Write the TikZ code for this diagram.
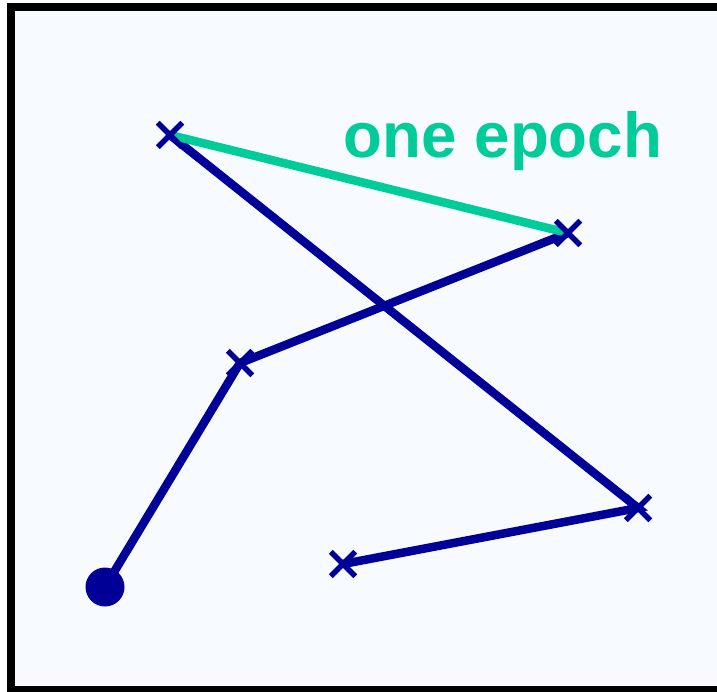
\documentclass[tikz,border=0pt]{standalone}
\usepackage{fontspec}
\setmainfont{Liberation Sans}
\usetikzlibrary{shapes.misc}
\definecolor{bgblue}{HTML}{F7FBFF}
\definecolor{pathblue}{HTML}{000099}
\definecolor{epochgreen}{HTML}{00CC99}
\tikzset{
  stepline/.style={pathblue, line width=8.5pt, line cap=round},
  epochline/.style={epochgreen, line width=8.5pt},
  xmark/.style={cross out, draw=pathblue, line width=5.5pt, minimum size=19pt, inner sep=0pt},
}
\begin{document}
\begin{tikzpicture}[x=1pt,y=-1pt]
\useasboundingbox (0,0) rectangle (717,692);
\clip (0,0) rectangle (717,692);
\fill[white] (0,0) rectangle (717,692);
\draw[line width=8pt, fill=bgblue] (10.8,7) rectangle (725,690);
\coordinate (s) at (105,587);
\coordinate (p1) at (240,363);
\coordinate (p2) at (568,233);
\coordinate (p3) at (170,135);
\coordinate (p4) at (638,508);
\coordinate (p5) at (343,564);
\draw[stepline] (s) -- (p1) -- (p2);
\draw[stepline] (p3) -- (p4) -- (p5);
\draw[epochline] (p2) -- (p3);
\fill[pathblue] (s) circle (19.5);
\foreach \p in {p1,p2,p3,p4,p5} \node[xmark] (m\p) at (\p) {};
\node[epochgreen, font=\bfseries\fontsize{63.6}{63.6}\selectfont, anchor=base] (lbl) at (503,158) {one epoch};
\end{tikzpicture}
\end{document}
